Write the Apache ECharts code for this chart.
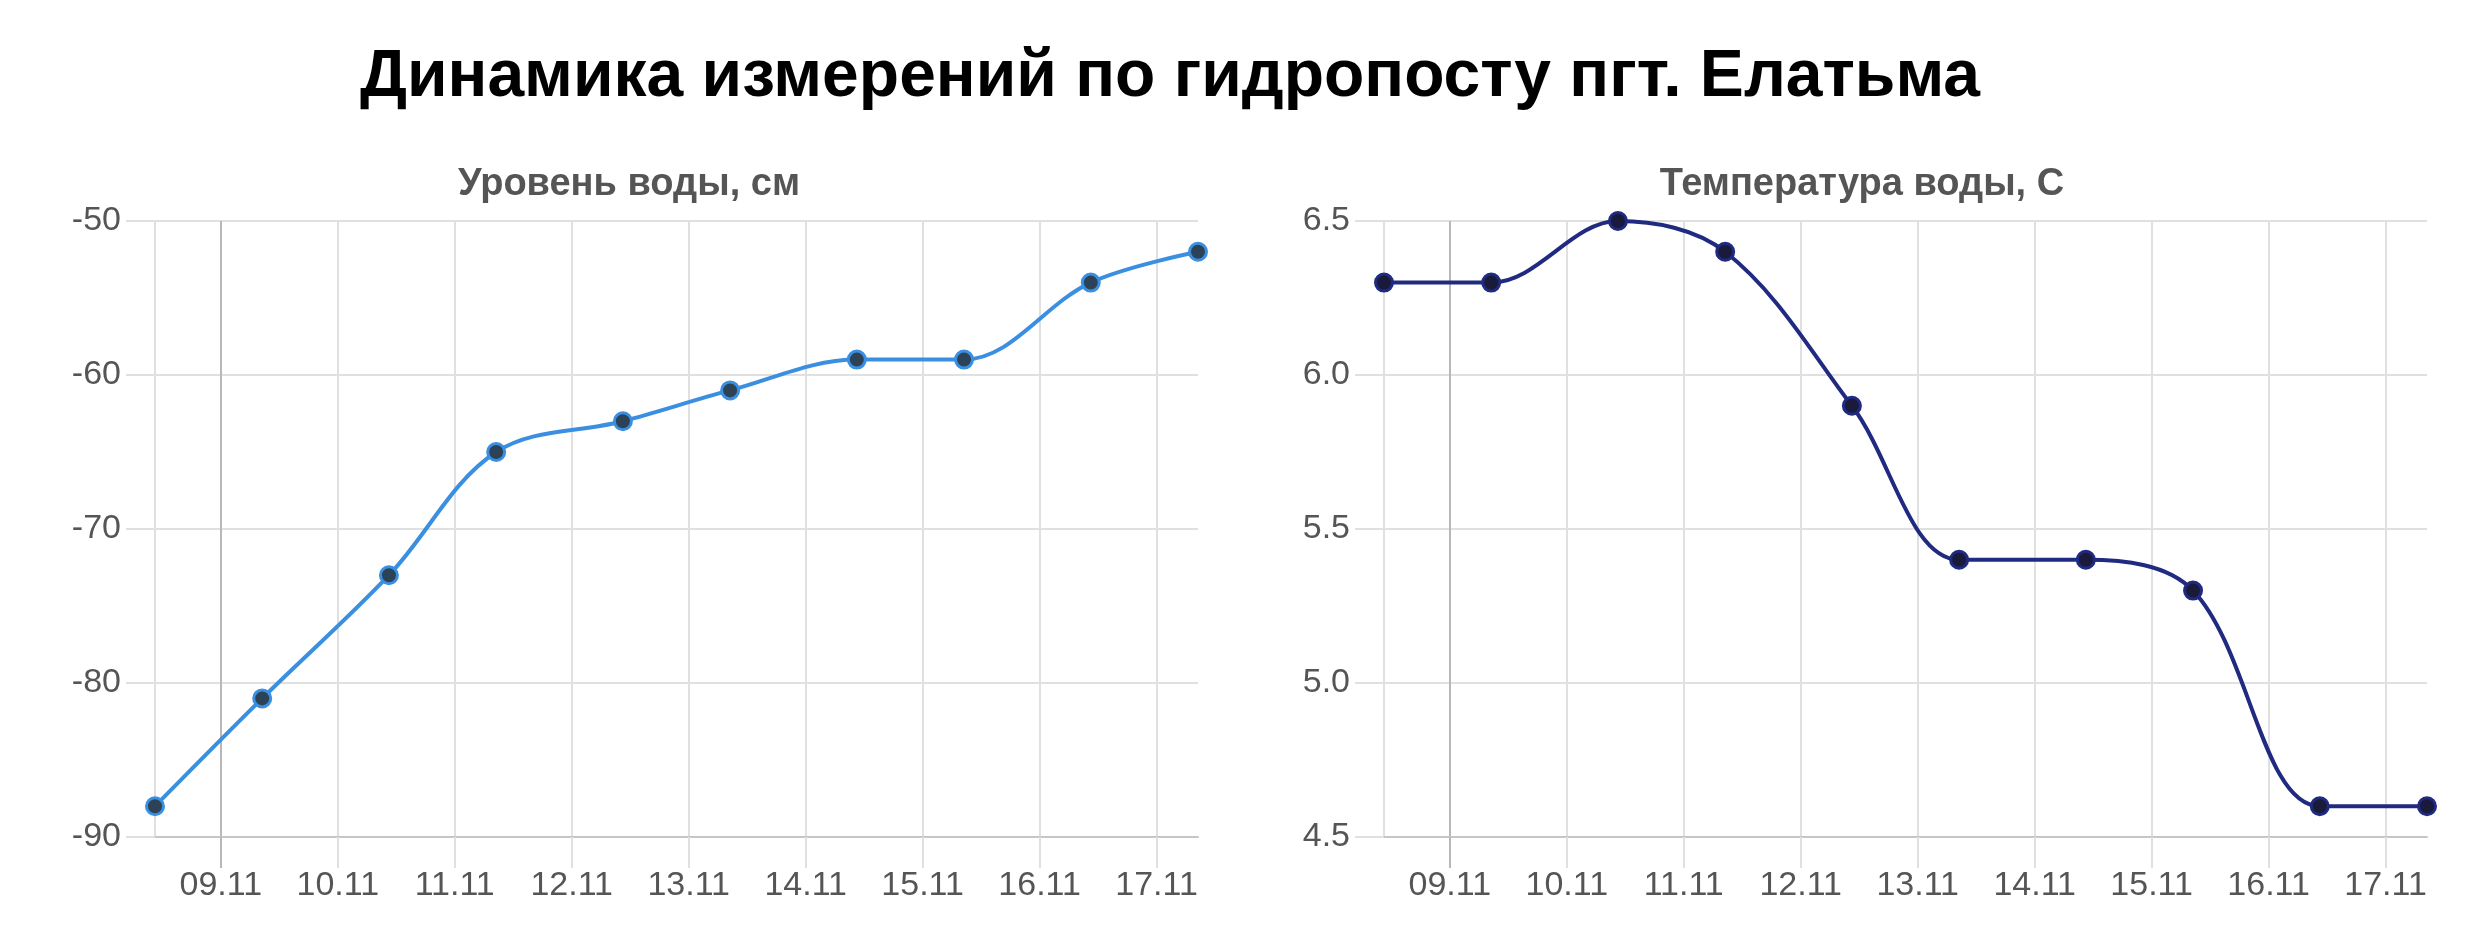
<!DOCTYPE html>
<html>
<head>
<meta charset="utf-8">
<script src="https://cdn.jsdelivr.net/npm/echarts@6/dist/echarts.min.js"></script>
<style>
html,body{margin:0;padding:0;background:#fff;}
#c{width:2489px;height:941px;}
</style>
</head>
<body>
<div id="c"></div>
<script>
var mainTitle = 'Динамика измерений по гидропосту пгт. Елатьма';
var levelTitle = 'Уровень воды, см';
var tempTitle = 'Температура воды, С';
var times = ['2019-11-08 10:30','2019-11-09 08:30','2019-11-10 10:30','2019-11-11 08:30','2019-11-12 10:30',
             '2019-11-13 08:30','2019-11-14 10:30','2019-11-15 08:30','2019-11-16 10:30','2019-11-17 08:30'];
var tickDays = ['2019-11-09','2019-11-10','2019-11-11','2019-11-12','2019-11-13',
                '2019-11-14','2019-11-15','2019-11-16','2019-11-17'];
var levels = [-88, -81, -73, -65, -63, -61, -59, -59, -54, -52];
var temps = [6.3, 6.3, 6.5, 6.4, 5.9, 5.4, 5.4, 5.3, 4.6, 4.6];

var FONT = '"Liberation Sans", Arial, sans-serif';
var light = '#e0e0e0';
var dark = '#b8b8b8';

function pairs(vals){ return times.map(function(t,i){ return [t, vals[i]]; }); }
var tickValues = tickDays.map(function(d){ return echarts.time.parse(d + ' 00:00').getTime(); });
var tMin = echarts.time.parse(times[0]).getTime();
var tMax = echarts.time.parse(times[times.length - 1]).getTime();
// split line colours: left edge, first day (darker), remaining days, right edge
var splitColors = [light, dark].concat(tickDays.slice(1).map(function(){ return light; })).concat([light]);

function xAxis(gi){
  return {
    type:'time', gridIndex:gi, min:tMin, max:tMax,
    minInterval:86400000, maxInterval:86400000,
    axisLine:{show:true, lineStyle:{color:'#c6c6c6', width:2}},
    axisTick:{show:true, length:31, customValues:tickValues, lineStyle:{color:light, width:2}},
    splitLine:{show:true, showMaxLine:false, lineStyle:{color:splitColors, width:2}},
    axisLabel:{show:true, margin:32, color:'#555', fontSize:34, fontFamily:FONT,
      formatter:'{dd}.{MM}', showMinLabel:false, showMaxLabel:false, hideOverlap:false}
  };
}
// overlay axis: darker tick mark for the first day line
function xAxisFirstTick(gi){
  return {
    type:'time', gridIndex:gi, min:tMin, max:tMax, position:'bottom',
    axisLine:{show:false}, axisLabel:{show:false}, splitLine:{show:false},
    axisTick:{show:true, length:31, customValues:[tickValues[0]], lineStyle:{color:dark, width:2}}
  };
}
function yAxis(gi, min, max, step, dec){
  return {
    type:'value', gridIndex:gi, min:min, max:max, interval:step,
    axisLine:{show:true, lineStyle:{color:light, width:2}},
    axisTick:{show:true, length:29, lineStyle:{color:light, width:2}},
    splitLine:{show:true, lineStyle:{color:light, width:2}},
    axisLabel:{margin:34, color:'#555', fontSize:34, fontFamily:FONT,
      formatter:function(v){ return v.toFixed(dec); }}
  };
}

var chart = echarts.init(document.getElementById('c'));
chart.setOption({
  backgroundColor:'#fff',
  animation:false,
  graphic:[
    {type:'text', x:1170, y:78, style:{text:mainTitle, font:'bold 66px '+FONT, fill:'#000', align:'center', verticalAlign:'middle'}},
    {type:'text', x:629, y:185, style:{text:levelTitle, font:'bold 38px '+FONT, fill:'#555', align:'center', verticalAlign:'middle'}},
    {type:'text', x:1862, y:185, style:{text:tempTitle, font:'bold 38px '+FONT, fill:'#555', align:'center', verticalAlign:'middle'}}
  ],
  grid:[
    {left:155, top:221, width:1043, height:616},
    {left:1384, top:221, width:1043, height:616}
  ],
  xAxis:[xAxis(0), xAxis(1), xAxisFirstTick(0), xAxisFirstTick(1)],
  yAxis:[yAxis(0,-90,-50,10,0), yAxis(1,4.5,6.5,0.5,1)],
  series:[
    {type:'line', xAxisIndex:0, yAxisIndex:0, data:pairs(levels), smooth:0.35,
     symbol:'circle', symbolSize:17,
     lineStyle:{color:'#3a8fe0', width:4},
     itemStyle:{color:'#2c4257', borderColor:'#3a8fe0', borderWidth:3}},
    {type:'line', xAxisIndex:1, yAxisIndex:1, data:pairs(temps), smooth:0.35,
     symbol:'circle', symbolSize:17,
     lineStyle:{color:'#1f2a80', width:4},
     itemStyle:{color:'#1a1a3a', borderColor:'#1f2a80', borderWidth:3}}
  ]
});
</script>
</body>
</html>
